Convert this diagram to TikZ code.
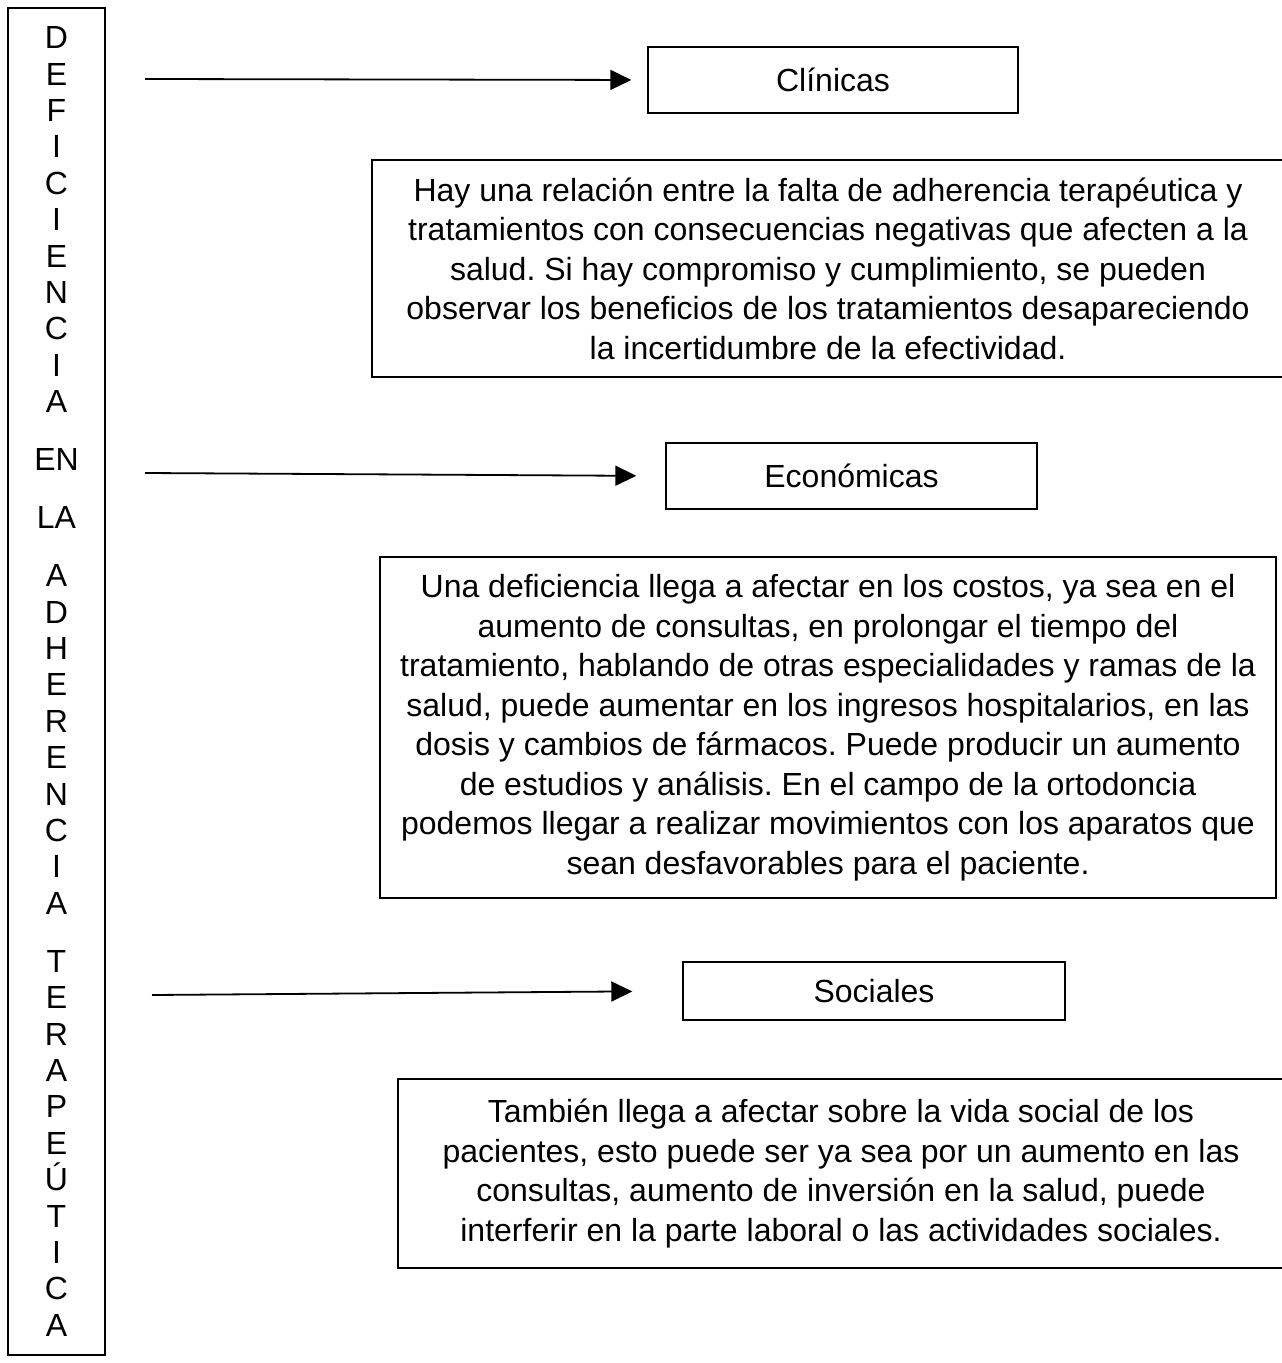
\documentclass[tikz,border=0pt]{standalone}
\usepackage{fontspec}
\setmainfont{Liberation Sans}
\frenchspacing
\usetikzlibrary{arrows.meta}

\begin{document}
\begin{tikzpicture}[x=0.5pt,y=-0.5pt,
	caja/.style={draw,line width=0.7pt,inner sep=0pt,align=center,
		font=\fontsize{16pt}{19.75pt}\selectfont},
	flecha/.style={line width=0.9pt,-{Triangle[length=10.5pt,width=10pt]}}]
	\useasboundingbox (0,0) rectangle (1281,1363);
	% columna de la izquierda
	\node[caja,minimum width=48.5pt,minimum height=673.5pt,
		font=\fontsize{16pt}{18.2pt}\selectfont] (titulo) at (56.5,681.5)
		{D\\E\\F\\I\\C\\I\\E\\N\\C\\I\\A\\[10.8pt]EN\\[10.8pt]LA\\[10.8pt]%
		A\\D\\H\\E\\R\\E\\N\\C\\I\\A\\[10.8pt]T\\E\\R\\A\\P\\E\\Ú\\T\\I\\C\\A};
	% consecuencias
	\node[caja,minimum width=185pt,minimum height=33pt] (clin) at (833,80) {Clínicas};
	\node[caja,minimum width=185.5pt,minimum height=33pt] (eco) at (851.5,476) {Económicas};
	\node[caja,minimum width=191pt,minimum height=29pt] (soc) at (874,991) {Sociales};
	% textos
	\node[caja,minimum width=456pt,minimum height=108.5pt] (txtclin) at (828,268.5)
		{Hay una relación entre la falta de adherencia terapéutica y\\
		tratamientos con consecuencias negativas que afecten a la\\
		salud. Si hay compromiso y cumplimiento, se pueden\\
		observar los beneficios de los tratamientos desapareciendo\\
		la incertidumbre de la efectividad.};
	\node[caja,minimum width=448pt,minimum height=170.5pt] (txteco) at (828,727.5)
		{Una deficiencia llega a afectar en los costos, ya sea en el\\
		aumento de consultas, en prolongar el tiempo del\\
		tratamiento, hablando de otras especialidades y ramas de la\\
		salud, puede aumentar en los ingresos hospitalarios, en las\\
		dosis y cambios de fármacos. Puede producir un aumento\\
		de estudios y análisis. En el campo de la ortodoncia\\
		podemos llegar a realizar movimientos con los aparatos que\\
		sean desfavorables para el paciente.};
	\node[caja,minimum width=443pt,minimum height=94.5pt] (txtsoc) at (841,1173.5)
		{También llega a afectar sobre la vida social de los\\
		pacientes, esto puede ser ya sea por un aumento en las\\
		consultas, aumento de inversión en la salud, puede\\
		interferir en la parte laboral o las actividades sociales.};
	% flechas
	\coordinate (o1) at (145,79);
	\coordinate (o2) at (145,473);
	\coordinate (o3) at (152,995);
	\draw[flecha,shorten >=8pt] (o1) -- (clin.west);
	\draw[flecha,shorten >=14.5pt] (o2) -- (eco.west);
	\draw[flecha,shorten >=25pt] (o3) -- (soc.west);
\end{tikzpicture}
\end{document}
